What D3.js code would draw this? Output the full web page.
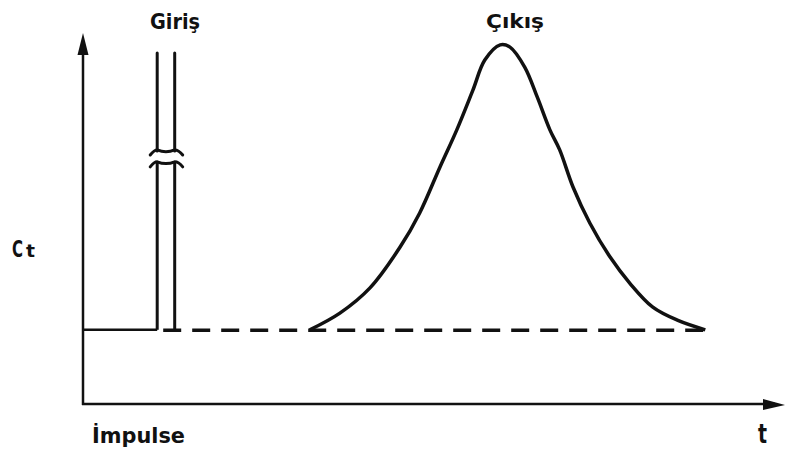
<!DOCTYPE html>
<html>
<head>
<meta charset="utf-8">
<script src="https://cdn.jsdelivr.net/npm/d3@7"></script>
<style>
  body { margin: 0; background: #fff; }
  svg text { font-family: "DejaVu Sans Condensed", "DejaVu Sans", sans-serif; font-weight: bold; fill: #111; }
</style>
</head>
<body>
<svg width="785" height="453"></svg>
<script>
var svg = d3.select("svg"),
    width = +svg.attr("width"),
    height = +svg.attr("height");

// baseline concentration and the input pulse (Giriş)
var baseC = 2.0;
var pulseT = [1.06, 1.31];
var pulseTop = 9.46;
var breakC = [6.82, 6.50]; // upper / lower end of the broken pulse
var dashEndT = 8.96;

// output response (Çıkış)
var outT = [3.24, 3.67, 4.10, 4.53, 4.81, 5.10, 5.34, 5.57, 5.74, 5.96, 6.10,
            6.31, 6.49, 6.67, 6.81, 7.00, 7.24, 7.53, 7.81, 8.14, 8.49, 8.89];
var outC = [2.00, 2.45, 3.13, 4.23, 5.15, 6.39, 7.39, 8.46, 9.27, 9.68, 9.62,
            9.08, 8.27, 7.39, 6.85, 5.85, 4.88, 3.96, 3.26, 2.61, 2.26, 2.00];

var x = d3.scaleLinear().domain([0, 10]).range([83, 783]);
var y = d3.scaleLinear().domain([0, 10]).range([404, 33]);

var ink = "#111";

// axes
svg.append("line")
    .attr("x1", x(0)).attr("y1", y(0) + 1)
    .attr("x2", x(0)).attr("y2", y(10) + 10)
    .attr("stroke", ink).attr("stroke-width", 2.5);
svg.append("line")
    .attr("x1", x(0) - 1).attr("y1", y(0))
    .attr("x2", x(10) - 8).attr("y2", y(0))
    .attr("stroke", ink).attr("stroke-width", 2.5);

// arrow heads
svg.append("path")
    .attr("d", "M" + x(0) + "," + y(10) + " l-5.5,22 l11,0 z")
    .attr("fill", ink);
svg.append("path")
    .attr("d", "M" + (x(10) + 2) + "," + (y(0) + 1) + " l-22,-6 l0,11 z")
    .attr("fill", ink);

// solid baseline up to the pulse
svg.append("line")
    .attr("x1", x(0)).attr("y1", y(baseC))
    .attr("x2", x(pulseT[0])).attr("y2", y(baseC))
    .attr("stroke", ink).attr("stroke-width", 2.5);

// dashed baseline after the pulse
svg.append("line")
    .attr("x1", x(pulseT[0]) + 6).attr("y1", y(baseC) + 0.5)
    .attr("x2", x(dashEndT)).attr("y2", y(baseC) + 0.5)
    .attr("stroke", ink).attr("stroke-width", 3.5)
    .attr("stroke-dasharray", "18,11");

// pulse lines, broken in the middle
pulseT.forEach(function(t) {
  svg.append("line")
      .attr("x1", x(t)).attr("y1", y(pulseTop))
      .attr("x2", x(t)).attr("y2", y(breakC[0]))
      .attr("stroke", ink).attr("stroke-width", 3).attr("stroke-linecap", "round");
  svg.append("line")
      .attr("x1", x(t)).attr("y1", y(breakC[1]))
      .attr("x2", x(t)).attr("y2", y(baseC))
      .attr("stroke", ink).attr("stroke-width", 3);
});

// break marks
breakC.forEach(function(c) {
  var xl = x(pulseT[0]), xr = x(pulseT[1]), yc = y(c), xm = (xl + xr) / 2;
  var d = "M" + (xl - 7) + "," + (yc + 4) +
          " Q" + (xl - 3) + "," + (yc - 1) + " " + xl + "," + (yc - 1) +
          " Q" + xm + "," + (yc + 2.5) + " " + xr + "," + (yc - 1) +
          " Q" + (xr + 4) + "," + (yc - 1) + " " + (xr + 8) + "," + (yc + 4);
  svg.append("path")
      .attr("d", d)
      .attr("fill", "none").attr("stroke", ink).attr("stroke-width", 3)
      .attr("stroke-linecap", "round");
});

// output curve
var line = d3.line()
    .x(function(d, i) { return x(outT[i]); })
    .y(function(d) { return y(d); })
    .curve(d3.curveCatmullRom.alpha(0.5));

svg.append("path")
    .attr("d", line(outC))
    .attr("fill", "none").attr("stroke", ink).attr("stroke-width", 3.5)
    .attr("stroke-linejoin", "round");

// labels
function label(txt, lx, ly, size, len) {
  svg.append("text")
      .attr("x", lx).attr("y", ly)
      .attr("font-size", size)
      .attr("textLength", len).attr("lengthAdjust", "spacingAndGlyphs")
      .text(txt);
}
label("Giriş", 150, 29, 21, 50);
label("Çıkış", 486, 28, 20, 58);
label("İmpulse", 92, 443, 22, 93);
label("C", 12, 257, 23, 11);
label("t", 26, 257, 17, 9);
label("t", 758, 443, 26, 9);
</script>
</body>
</html>
